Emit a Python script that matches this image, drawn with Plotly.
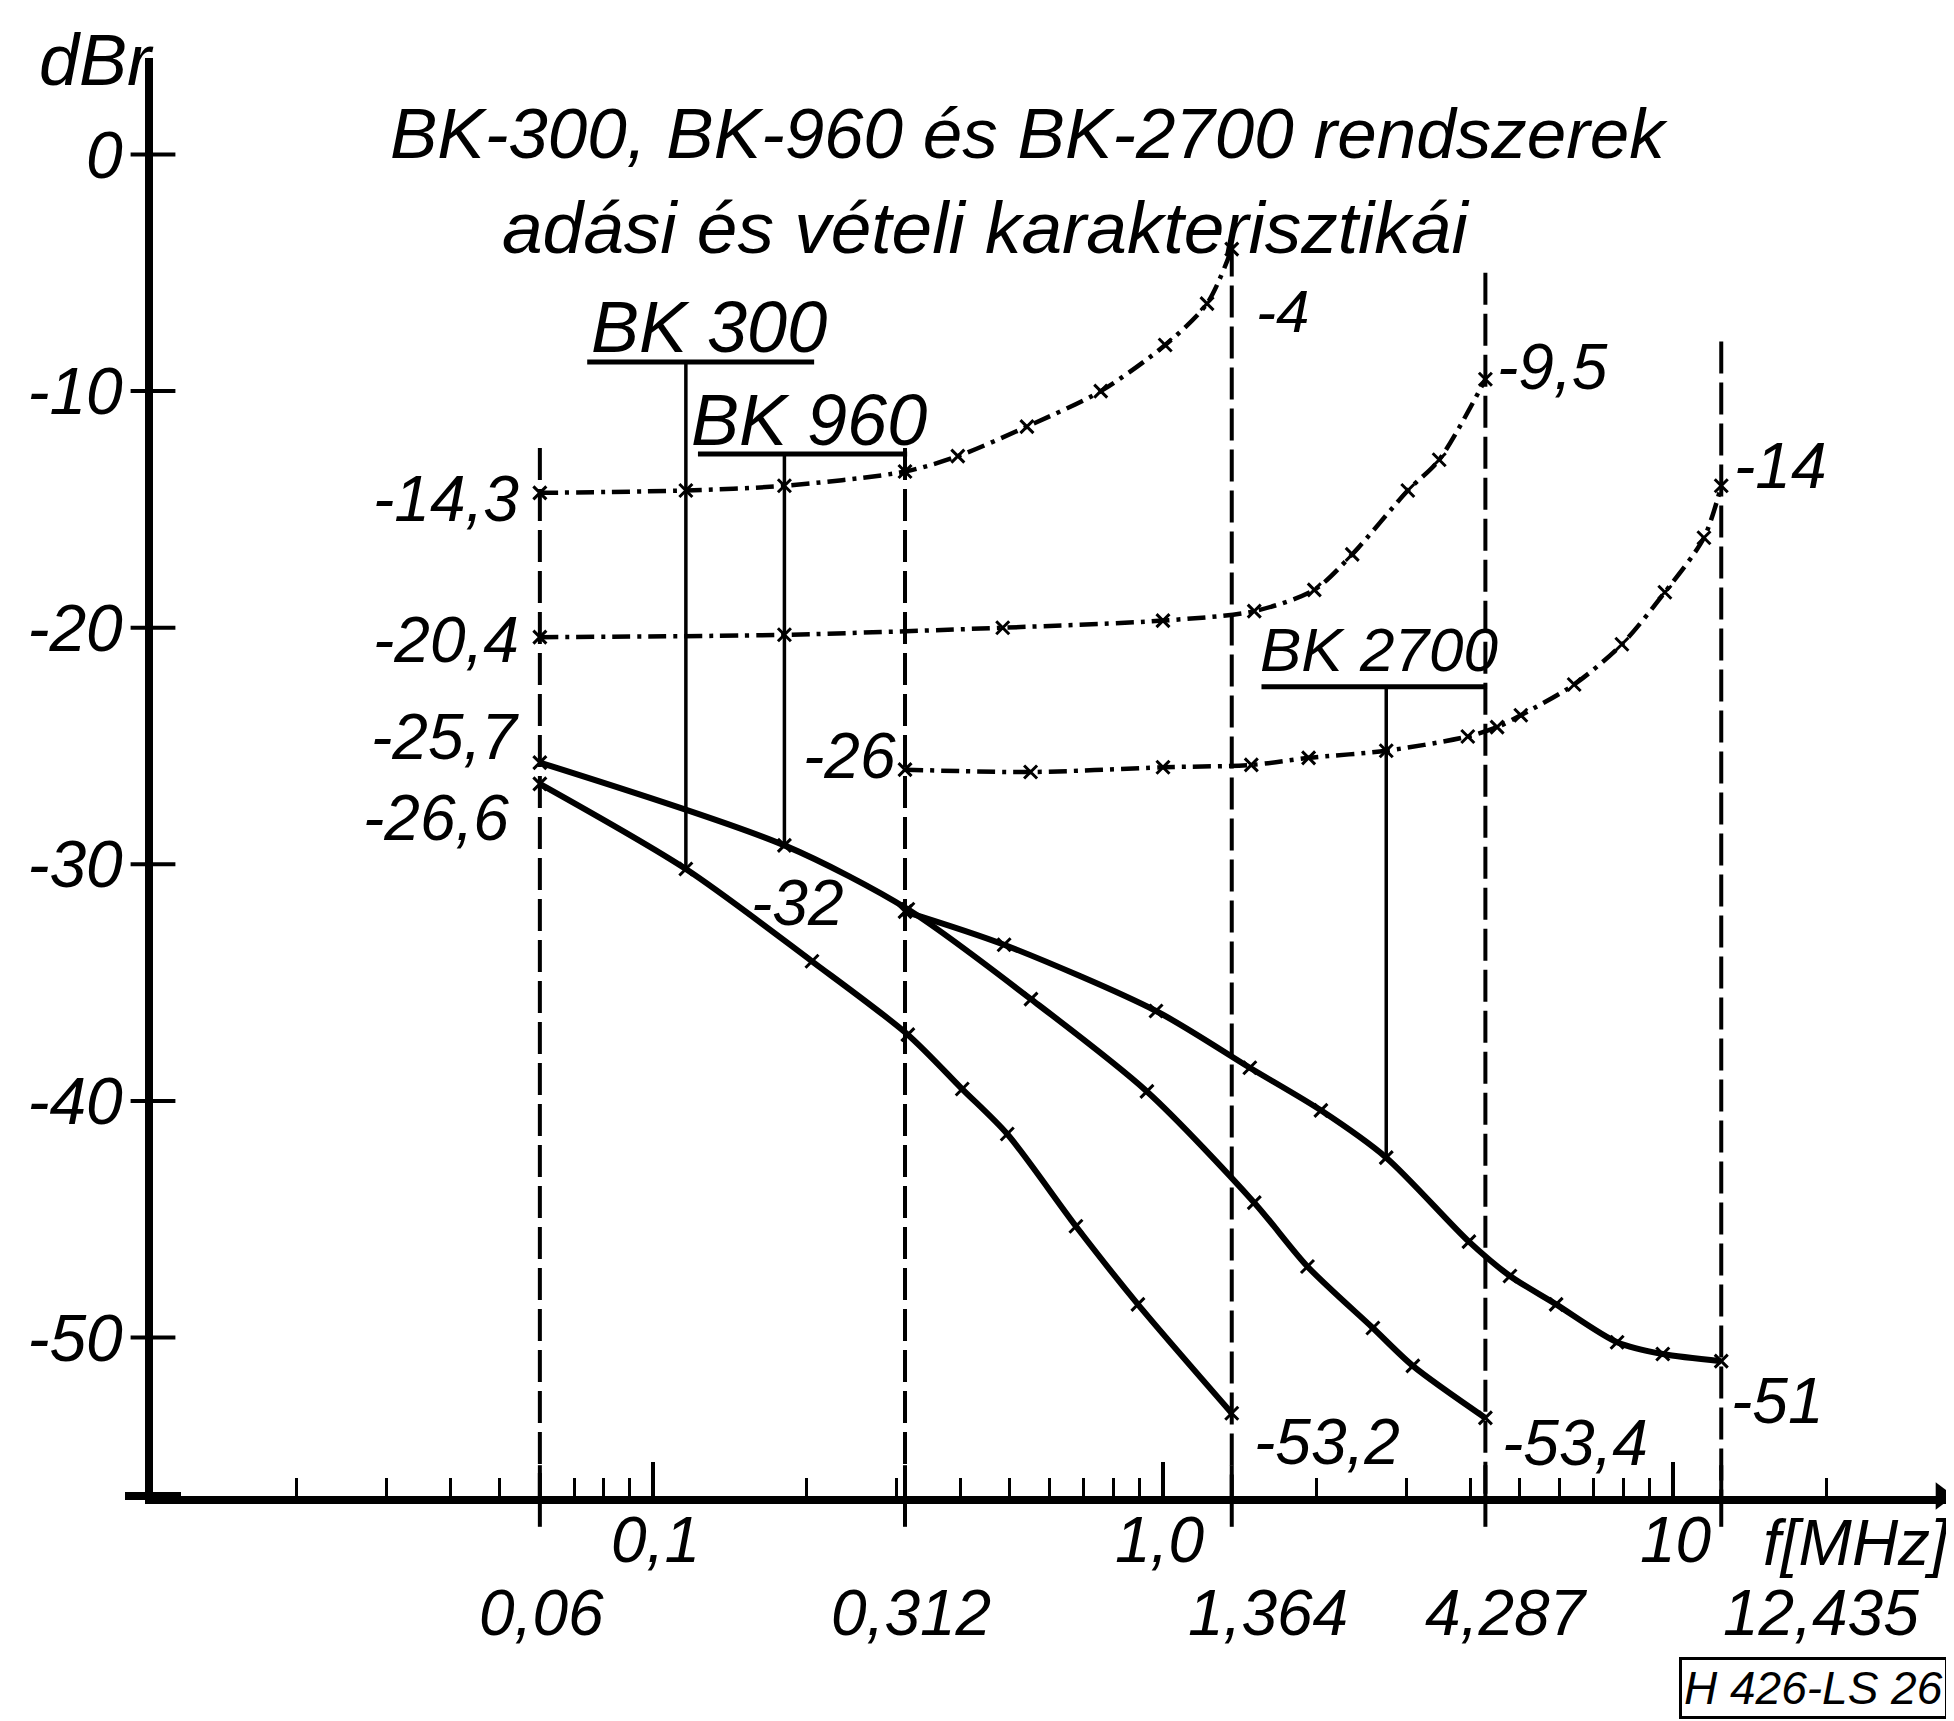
import math
import plotly.graph_objects as go

# ---------------- values ----------------
# adási (transmit) characteristics - dash-dot curves   [MHz] / [dBr]
bk300_tx_f = [0.06, 0.116, 0.181, 0.312, 0.396, 0.541, 0.755, 1.01, 1.22, 1.364]
bk300_tx_db = [-14.3, -14.2, -14.0, -13.4, -12.75, -11.5, -10.0, -8.05, -6.3, -4.0]
bk960_tx_f = [0.06, 0.181, 0.485, 1.0, 1.51, 1.98, 2.35, 3.02, 3.48, 4.287]
bk960_tx_db = [-20.4, -20.3, -20.0, -19.7, -19.3, -18.4, -16.9, -14.2, -12.9, -9.5]
bk2700_tx_f = [0.312, 0.55, 1.0, 1.49, 1.93, 2.74, 3.96, 4.52, 5.03, 6.4, 7.94, 9.64, 11.5, 12.435]
bk2700_tx_db = [-26.0, -26.1, -25.9, -25.8, -25.5, -25.2, -24.6, -24.2, -23.7, -22.4, -20.7, -18.5, -16.2, -14.0]

# vételi (receive) characteristics - solid curves
bk300_rx_f = [0.06, 0.116, 0.205, 0.316, 0.404, 0.495, 0.675, 0.893, 1.364]
bk300_rx_db = [-26.6, -30.2, -34.1, -37.2, -39.5, -41.4, -45.3, -48.6, -53.2]
bk960_rx_f = [0.06, 0.181, 0.316, 0.551, 0.93, 1.51, 1.92, 2.58, 3.09, 4.287]
bk960_rx_db = [-25.7, -29.2, -31.9, -35.7, -39.6, -44.3, -47.0, -49.6, -51.2, -53.4]
bk2700_rx_f = [0.312, 0.488, 0.969, 1.48, 2.04, 2.74, 3.98, 4.79, 5.9, 7.77, 9.55, 12.435]
bk2700_rx_db = [-32.0, -33.4, -36.2, -38.6, -40.4, -42.4, -45.95, -47.4, -48.6, -50.2, -50.7, -51.0]

# band-edge frequencies (dashed verticals) and their labels
ref_freqs = [0.06, 0.312, 1.364, 4.287, 12.435]
ref_tops = [-12.4, -12.4, -3.8, -5.0, -7.9]
ref_labels = ["0,06", "0,312", "1,364", "4,287", "12,435"]

# axis ticks
ytick_vals = [0, -10, -20, -30, -40, -50]
ytick_text = ["0", "-10", "-20", "-30", "-40", "-50"]
xtick_major = [0.1, 1, 10]
xtick_major_text = ["0,1", "1,0", "10"]
xtick_minor = [0.02, 0.03, 0.04, 0.05, 0.06, 0.07, 0.08, 0.09,
               0.2, 0.3, 0.4, 0.5, 0.6, 0.7, 0.8, 0.9,
               2, 3, 4, 5, 6, 7, 8, 9, 20]

# system labels
sys_names = ["BK 300", "BK 960", "BK 2700"]

# ---------------- styling / layout ----------------
W, H = 1954, 1721
ML, MR, MT, MB = 145, 5, 50, 233
X_RANGE = [-1.9804, 1.5569]
Y_RANGE = [-56.70, 4.08]

FAM = "Liberation Sans, Arial, DejaVu Sans, sans-serif"


def font(size):
    return dict(family=FAM, size=size, color="black", style="italic")


def px_x(px):
    return (px - ML) / (W - ML - MR)


def px_y(py):
    return (H - MB - py) / (H - MB - MT)


fig = go.Figure()

# dashed band-edge verticals (with their short run below the frequency axis)
for f, top in zip(ref_freqs, ref_tops):
    fig.add_trace(go.Scatter(x=[f, f], y=[top, Y_RANGE[0]], mode="lines",
                             line=dict(color="black", width=4, dash="32px,9px"),
                             hoverinfo="skip"))
fig.add_trace(go.Scatter(x=ref_freqs, y=[Y_RANGE[0]] * len(ref_freqs), mode="markers",
                         marker=dict(symbol="line-ns", size=44, line=dict(color="black", width=4)),
                         cliponaxis=False, hoverinfo="skip"))

DASHDOT = "18px,7px,4px,7px"
for fx, dbx in [(bk300_tx_f, bk300_tx_db), (bk960_tx_f, bk960_tx_db), (bk2700_tx_f, bk2700_tx_db)]:
    fig.add_trace(go.Scatter(x=fx, y=dbx, mode="lines+markers",
                             line=dict(color="black", width=4.5, dash=DASHDOT, shape="spline", smoothing=0.8),
                             marker=dict(symbol="x-thin", size=13, line=dict(color="black", width=3)),
                             hoverinfo="skip"))

for fx, dbx in [(bk300_rx_f, bk300_rx_db), (bk960_rx_f, bk960_rx_db), (bk2700_rx_f, bk2700_rx_db)]:
    fig.add_trace(go.Scatter(x=fx, y=dbx, mode="lines+markers",
                             line=dict(color="black", width=6, shape="spline", smoothing=0.8),
                             marker=dict(symbol="x-thin", size=13, line=dict(color="black", width=3)),
                             hoverinfo="skip"))

# system labels with underline and leader line to the marked points
label_geo = [
    # (marked f, lower-curve dB, underline y, underline x0, x1, text x, text y, font size)
    (bk300_tx_f[1], bk300_rx_db[1], -8.77, 0.0743, 0.207, 0.1288, -7.3, 72),
    (bk960_tx_f[1], bk960_rx_db[1], -12.66, 0.1225, 0.315, 0.202, -11.2, 72),
    (bk2700_tx_f[5], bk2700_rx_db[5], -22.5, 1.56, 4.32, 2.65, -20.9, 62),
]
annotations = []
for name, (fm, dbl, uy, ux0, ux1, tx, ty, fs) in zip(sys_names, label_geo):
    fig.add_trace(go.Scatter(x=[ux0, ux1], y=[uy, uy], mode="lines",
                             line=dict(color="black", width=5), hoverinfo="skip"))
    fig.add_trace(go.Scatter(x=[fm, fm], y=[uy, dbl], mode="lines",
                             line=dict(color="black", width=3.5), hoverinfo="skip"))
    annotations.append(dict(text=name, x=math.log10(tx), y=ty, xref="x", yref="y",
                            showarrow=False, font=font(fs), xanchor="center", yanchor="middle"))

# y tick crosses
fig.add_trace(go.Scatter(x=[10 ** X_RANGE[0]] * len(ytick_vals), y=ytick_vals, mode="markers",
                         marker=dict(symbol="line-ew", size=32, line=dict(color="black", width=4)),
                         cliponaxis=False, hoverinfo="skip"))
# frequency-axis stub left of the origin and arrow head at its end
fig.add_trace(go.Scatter(x=[10 ** X_RANGE[0]], y=[Y_RANGE[0]], mode="markers",
                         marker=dict(symbol="line-ew", size=40, line=dict(color="black", width=8)),
                         cliponaxis=False, hoverinfo="skip"))
fig.add_trace(go.Scatter(x=[10 ** (X_RANGE[1] - 0.03)], y=[Y_RANGE[0]], mode="markers",
                         marker=dict(symbol="triangle-right", size=24, color="black"),
                         cliponaxis=False, hoverinfo="skip"))

# value labels at the curve ends: text, f, dB, xanchor, xshift, yshift, size
point_labels = [
    ("-14,3", 0.06, -14.3, "right", -19, -6, 64),
    ("-20,4", 0.06, -20.4, "right", -19, -3, 64),
    ("-25,7", 0.06, -25.7, "right", -19, 26, 64),
    ("-26,6", 0.06, -26.6, "right", -29, -34, 64),
    ("-26", 0.312, -26.0, "right", -7, 14, 64),
    ("-32", 0.312, -32.0, "right", -59, 9, 64),
    ("-4", 1.364, -4.0, "left", 22, -62, 60),
    ("-9,5", 4.287, -9.5, "left", 10, 12, 64),
    ("-14", 12.435, -14.0, "left", 11, 20, 64),
    ("-53,2", 1.364, -53.2, "left", 20, -29, 64),
    ("-53,4", 4.287, -53.4, "left", 15, -25, 64),
    ("-51", 12.435, -51.0, "left", 8, -40, 64),
]
for t, f, db, xa, xs, ys, fs in point_labels:
    annotations.append(dict(text=t, x=math.log10(f), y=db, xref="x", yref="y", showarrow=False,
                            font=font(fs), xanchor=xa, yanchor="middle", xshift=xs, yshift=ys))

# frequency scale labels: first row (decades), second row (band edges)
row1_xshift = [2, -3, 3]
for f, lab, xs in zip(xtick_major, xtick_major_text, row1_xshift):
    annotations.append(dict(text=lab, x=math.log10(f), y=px_y(1532), xref="x", yref="paper",
                            showarrow=False, font=font(64), xanchor="center", yanchor="middle",
                            xshift=xs))
ref_xshift = [2, 6, 36, 21, 100]
for f, lab, xs in zip(ref_freqs, ref_labels, ref_xshift):
    annotations.append(dict(text=lab, x=math.log10(f), y=px_y(1605), xref="x", yref="paper",
                            showarrow=False, font=font(64), xanchor="center", yanchor="middle",
                            xshift=xs))

# title, axis names, drawing number
annotations += [
    dict(text="BK-300, BK-960 és BK-2700 rendszerek", x=px_x(380), y=px_y(125), xref="paper",
         yref="paper", showarrow=False, font=font(71), xanchor="left", yanchor="middle"),
    dict(text="adási és vételi karakterisztikái", x=px_x(492), y=px_y(219), xref="paper",
         yref="paper", showarrow=False, font=font(73), xanchor="left", yanchor="middle"),
    dict(text="dBr", x=px_x(88), y=px_y(52), xref="paper", yref="paper", showarrow=False,
         font=font(72), xanchor="center", yanchor="middle"),
    dict(text="f[MHz]", x=px_x(1848), y=px_y(1535), xref="paper", yref="paper", showarrow=False,
         font=font(64), xanchor="center", yanchor="middle"),
    dict(text="H 426-LS 26", x=px_x(1940), y=px_y(1680), xref="paper", yref="paper",
         showarrow=False, font=font(46), xanchor="right", yanchor="middle",
         bordercolor="black", borderwidth=3, borderpad=2),
]

fig.update_layout(
    width=W, height=H, autosize=False,
    margin=dict(l=ML, r=MR, t=MT, b=MB, autoexpand=False),
    paper_bgcolor="white", plot_bgcolor="white",
    showlegend=False,
    annotations=annotations,
    xaxis=dict(type="log", range=X_RANGE, automargin=False, showline=True, linecolor="black",
               linewidth=8, showgrid=False, zeroline=False, ticks="inside", ticklen=34,
               tickwidth=4, tickcolor="black", tickvals=xtick_major, ticktext=xtick_major_text,
               showticklabels=False,
               minor=dict(ticks="inside", ticklen=18, tickwidth=3, tickcolor="black",
                          tickvals=xtick_minor, showgrid=False)),
    yaxis=dict(range=Y_RANGE, automargin=False, showline=True, linecolor="black", linewidth=8,
               showgrid=False, zeroline=False, ticks="", tickvals=ytick_vals,
               ticktext=ytick_text, tickfont=font(66), ticklabelstandoff=9),
)

fig.write_html("out.html")
